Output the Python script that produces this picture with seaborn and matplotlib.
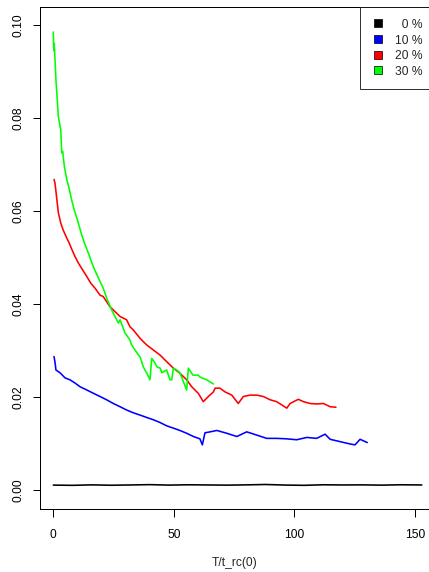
import pandas as pd
import matplotlib.pyplot as plt
import seaborn as sns
from matplotlib.lines import Line2D

# ================= data =================
series_labels = ["0 %", "10 %", "20 %", "30 %"]
series_colors = ["#000000", "#0000FF", "#FF0000", "#00FF00"]

x_0 = [0, 8, 16, 24, 32, 40, 48, 56, 64, 72, 80, 88, 96, 104, 112, 120, 128, 136, 144, 152.8]
y_0 = [0.00105, 0.00100, 0.00110, 0.00102, 0.00108, 0.00115, 0.00105, 0.00112, 0.00108, 0.00104,
       0.00110, 0.00118, 0.00106, 0.00100, 0.00112, 0.00108, 0.00110, 0.00104, 0.00112, 0.00108]

x_10 = [0.3, 0.7, 1.1, 2.8, 4.9, 6.9, 9.0, 11.1, 13.9, 16.6, 19.4, 22.1, 24.9, 27.7, 30.4, 33.2,
        36.0, 38.7, 41.5, 44.3, 47.0, 49.8, 52.5, 55.3, 58.1, 60.8, 61.8, 62.9, 65.0, 67.8, 71.9,
        76.1, 80.2, 84.4, 88.5, 92.6, 96.8, 100.9, 105.1, 109.2, 112.7, 114.8, 118.9, 123.0, 125.1,
        127.2, 130.2]
y_10 = [0.0287, 0.0275, 0.0258, 0.0252, 0.0241, 0.0237, 0.0230, 0.0222, 0.0215, 0.0208, 0.0201,
        0.0194, 0.0186, 0.0179, 0.0172, 0.0166, 0.0161, 0.0156, 0.0151, 0.0145, 0.0138, 0.0133,
        0.0128, 0.0122, 0.0115, 0.0110, 0.0097, 0.0123, 0.0125, 0.0128, 0.0122, 0.0115, 0.0125,
        0.0118, 0.0111, 0.0111, 0.0110, 0.0108, 0.0113, 0.0111, 0.0120, 0.0109, 0.0104, 0.0099,
        0.0097, 0.0109, 0.0102]

x_20 = [0.3, 0.7, 1.1, 2.1, 3.1, 4.1, 5.3, 6.6, 7.8, 9.0, 10.4, 12.2, 13.9, 15.5, 17.3, 19.4,
        20.7, 23.5, 26.3, 27.7, 30.4, 31.8, 33.2, 36.0, 38.7, 41.5, 44.3, 47.0, 49.8, 52.5, 55.3,
        57.4, 60.1, 62.2, 64.3, 66.4, 67.1, 69.1, 71.2, 74.0, 76.7, 78.8, 81.6, 84.4, 87.1, 89.9,
        92.6, 96.8, 98.2, 101.6, 103.7, 106.5, 109.2, 112.0, 114.8, 117.2]
y_20 = [0.0668, 0.0660, 0.0642, 0.0596, 0.0574, 0.0559, 0.0545, 0.0531, 0.0516, 0.0502, 0.0488,
        0.0473, 0.0459, 0.0445, 0.0434, 0.0419, 0.0416, 0.0394, 0.0380, 0.0373, 0.0366, 0.0351,
        0.0344, 0.0326, 0.0312, 0.0301, 0.0290, 0.0276, 0.0262, 0.0251, 0.0237, 0.0222, 0.0208,
        0.0190, 0.0201, 0.0211, 0.0219, 0.0219, 0.0211, 0.0204, 0.0186, 0.0201, 0.0204, 0.0204,
        0.0201, 0.0194, 0.0190, 0.0176, 0.0186, 0.0195, 0.0190, 0.0186, 0.0185, 0.0186, 0.0179,
        0.0178]

x_30 = [0.0, 0.2, 0.4, 1.1, 2.1, 3.1, 3.5, 3.9, 4.6, 5.6, 6.4, 7.6, 8.7, 10.0, 11.4, 12.9, 14.5,
        16.6, 18.7, 20.7, 22.1, 24.2, 27.0, 27.7, 29.7, 31.7, 32.5, 35.3, 36.0, 37.3, 38.0, 38.7,
        40.1, 40.8, 42.2, 42.9, 44.3, 45.0, 47.0, 48.4, 49.1, 49.8, 51.2, 52.5, 55.3, 56.0, 57.9,
        60.1, 60.8, 63.6, 66.4]
y_30 = [0.0985, 0.0945, 0.0960, 0.0882, 0.0803, 0.0774, 0.0725, 0.0728, 0.0695, 0.0667, 0.0652,
        0.0624, 0.0602, 0.0581, 0.0555, 0.0531, 0.0510, 0.0480, 0.0456, 0.0434, 0.0413, 0.0387,
        0.0359, 0.0366, 0.0338, 0.0323, 0.0312, 0.0290, 0.0286, 0.0265, 0.0258, 0.0252, 0.0237,
        0.0283, 0.0273, 0.0265, 0.0262, 0.0252, 0.0258, 0.0237, 0.0237, 0.0262, 0.0258, 0.0252,
        0.0215, 0.0262, 0.0247, 0.0247, 0.0243, 0.0237, 0.0228]

x_ticks = [0, 50, 100, 150]
y_ticks = [0.00, 0.02, 0.04, 0.06, 0.08, 0.10]
y_ticklabels = ["0.00", "0.02", "0.04", "0.06", "0.08", "0.10"]
x_label = "T/t_rc(0)"

# ================= style =================
W, H, DPI = 429, 572, 72
sns.set_style("ticks", {"axes.edgecolor": "black", "xtick.color": "black", "ytick.color": "black"})
plt.rcParams['font.family'] = ['Liberation Sans', 'DejaVu Sans']
plt.rcParams['font.size'] = 12


def build_frame():
    parts = []
    for lab, xs, ys in zip(series_labels, [x_0, x_10, x_20, x_30], [y_0, y_10, y_20, y_30]):
        d = pd.DataFrame({"x": xs, "y": ys, "serie": lab})
        parts.append(d)
    return pd.concat(parts, ignore_index=True)


def plot():
    df = build_frame()
    fig = plt.figure(figsize=(W / DPI, H / DPI), dpi=DPI)
    # plot box in pixels: left 39.5, right ~430 (just past the image edge), top 7, bottom 509
    ax = fig.add_axes([39.5 / W, (H - 509) / H, (430 - 39.5) / W, (509 - 7) / H])

    sns.lineplot(data=df, x="x", y="y", hue="serie", hue_order=series_labels,
                 palette=dict(zip(series_labels, series_colors)), units="serie",
                 estimator=None, sort=False, legend=False, linewidth=1.6, ax=ax)

    ax.set_xlim(-5.72, 156.2)
    ax.set_ylim(-0.00409, 0.10387)
    ax.set_xticks(x_ticks)
    ax.set_yticks(y_ticks)
    ax.set_yticklabels(y_ticklabels, rotation=90, va="center")
    ax.tick_params(axis="both", direction="out", length=7.5, width=1, labelsize=12)
    ax.tick_params(axis="x", pad=12)
    ax.tick_params(axis="y", pad=7)
    for s in ax.spines.values():
        s.set_visible(True)
        s.set_linewidth(1)
        s.set_color("black")

    ax.set_ylabel("")
    ax.set_xlabel(x_label, fontsize=12)
    ax.xaxis.label.set_va("center")
    ax.xaxis.set_label_coords(0.5, (509 - 563) / (509 - 7))

    handles = [Line2D([], [], linestyle="none", marker="s", markersize=8.5,
                      markerfacecolor=c, markeredgecolor="black", markeredgewidth=0.7)
               for c in series_colors]
    labels = [("  " + l) if len(l) < 4 else l for l in series_labels]
    leg = fig.legend(handles, labels, loc="upper left",
                     bbox_to_anchor=(360 / W, 1 - 7 / H), bbox_transform=fig.transFigure,
                     frameon=True, fancybox=False, framealpha=1, edgecolor="black",
                     borderpad=0.95, handlelength=1.1, handleheight=1.0, handletextpad=0.85,
                     labelspacing=0.27, borderaxespad=0, fontsize=12)
    leg.get_frame().set_linewidth(0.8)

    fig.savefig("out.png", dpi=DPI)


if __name__ == "__main__":
    plot()
